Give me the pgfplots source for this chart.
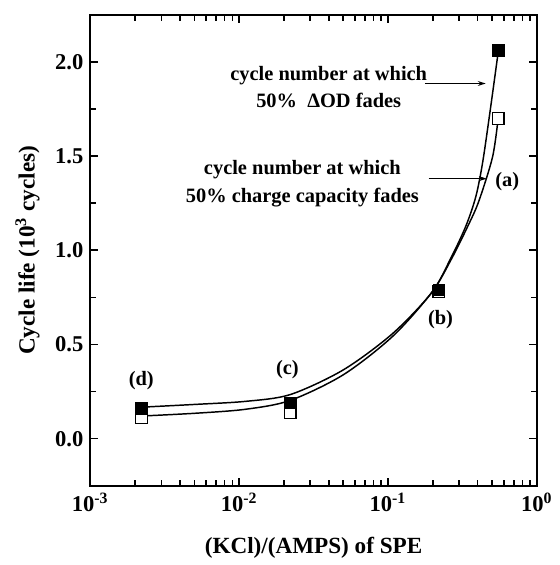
\documentclass[border=0pt]{standalone}
\usepackage{fontspec}
\setmainfont{Liberation Serif}
\usepackage{pgfplots}
\pgfplotsset{compat=1.18}
\usetikzlibrary{arrows.meta}

\begin{document}
\bfseries
\begin{tikzpicture}
\begin{axis}[
  scale only axis,
  width=227.5pt, height=240pt,
  xmode=log,
  xmin=1e-3, xmax=1,
  ymin=-0.25, ymax=2.25,
  xtick={1e-3,1e-2,1e-1,1},
  xticklabels={10\textsuperscript{-3},10\textsuperscript{-2},10\textsuperscript{-1},10\textsuperscript{0}},
  ytick={0,0.5,1,1.5,2},
  yticklabels={0.0,0.5,1.0,1.5,2.0},
  minor ytick={-0.25,0.25,0.75,1.25,1.75},
  tick label style={font=\fontsize{11.5}{13}\bfseries},
  label style={font=\fontsize{11.8}{14}\bfseries},
  xlabel={(KCl)/(AMPS) of SPE},
  ylabel={Cycle life (10\textsuperscript{3} cycles)},
  xlabel style={yshift=-6pt},
  ylabel style={yshift=1pt},
  axis line style={line width=1pt},
  tick style={line width=0.8pt, black},
  major tick length=4pt,
  minor tick length=3pt,
  clip=false,
]
% fitted curves
\addplot[black, line width=0.75pt, smooth, tension=0.5] coordinates {
  (0.0022,0.167) (0.00512,0.182) (0.01105,0.198) (0.02206,0.234) (0.0501,0.365)
  (0.1072,0.557) (0.197,0.776) (0.2668,0.964) (0.3344,1.130) (0.3898,1.286)
  (0.4333,1.469) (0.4889,1.755) (0.55,2.05)
};
\addplot[black, line width=0.75pt, smooth, tension=0.5] coordinates {
  (0.0022,0.12) (0.00512,0.135) (0.01105,0.156) (0.02206,0.203) (0.0501,0.339)
  (0.1072,0.542) (0.197,0.776) (0.2668,0.953) (0.3451,1.130) (0.4077,1.260)
  (0.5043,1.495) (0.55,1.70)
};
% 50% charge capacity fades (open squares)
\addplot[only marks, mark=square*, mark size=3pt, mark options={fill=white, draw=black, line width=0.6pt}] coordinates {
  (0.0022,0.11) (0.022,0.14) (0.22,0.78) (0.55,1.70)
};
% 50% OD fades (filled squares)
\addplot[only marks, mark=square*, mark size=3pt, mark options={fill=black, draw=black}] coordinates {
  (0.0022,0.16) (0.022,0.19) (0.22,0.79) (0.55,2.06)
};

\node[align=center, font=\fontsize{10.4}{14}\bfseries] at (axis cs:0.040,1.865)
  {cycle number at which\\50\%\ \ ΔOD fades};
\node[align=center, font=\fontsize{10.4}{14}\bfseries] at (axis cs:0.0266,1.354)
  {cycle number at which\\50\% charge capacity fades};
\draw[-{Stealth[length=4pt,width=2.5pt]}, line width=0.5pt] (axis cs:0.1773,1.885) -- (axis cs:0.4534,1.885);
\draw[-{Stealth[length=4pt,width=2.5pt]}, line width=0.5pt] (axis cs:0.1877,1.38) -- (axis cs:0.4609,1.38);

\node[font=\fontsize{10.4}{12}\bfseries] at (axis cs:0.634,1.365) {(a)};
\node[font=\fontsize{10.4}{12}\bfseries] at (axis cs:0.2254,0.63) {(b)};
\node[font=\fontsize{10.4}{12}\bfseries] at (axis cs:0.0211,0.365) {(c)};
\node[font=\fontsize{10.4}{12}\bfseries] at (axis cs:0.0022,0.307) {(d)};
\end{axis}
\useasboundingbox (current axis.south west) ++(-46pt,-35pt) rectangle ([shift={(7.5pt,7.5pt)}]current axis.north east);
\end{tikzpicture}
\end{document}
